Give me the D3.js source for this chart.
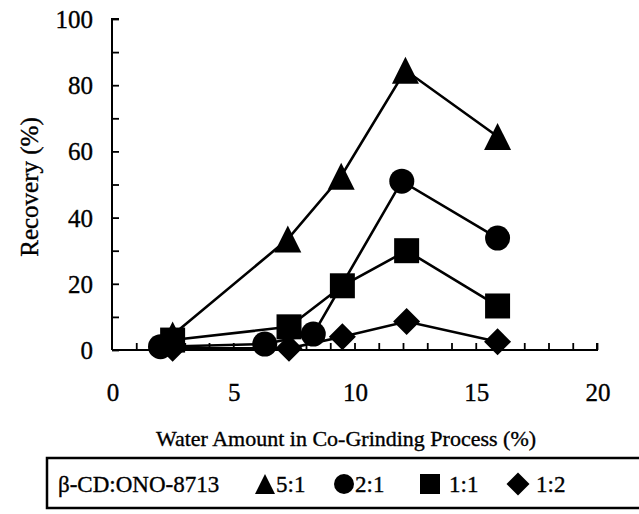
<!DOCTYPE html>
<html>
<head>
<meta charset="utf-8">
<script src="https://cdn.jsdelivr.net/npm/d3@7"></script>
</head>
<body style="margin:0">
<svg id="chart" width="639" height="514"></svg>
<script>
// ---- data ----
const seriesNames = ["5:1", "2:1", "1:1", "1:2"];
const seriesShapes = ["triangle", "circle", "square", "diamond"];
const xTri = [2.5, 7.25, 9.45, 12.1, 15.9];
const yTri = [4.5, 33.5, 52.5, 84.5, 64.5];
const xCir = [2.0, 6.3, 8.3, 11.95, 15.9];
const yCir = [1, 1.8, 4.8, 51, 33.8];
const xSq = [2.5, 7.3, 9.5, 12.15, 15.9];
const ySq = [3, 7, 19.4, 30, 13.3];
const xDia = [2.5, 7.3, 9.5, 12.15, 15.9];
const yDia = [0.5, 0.5, 4, 8.6, 2.5];
const xTicks = [0, 5, 10, 15, 20];
const yTicks = [0, 20, 40, 60, 80, 100];
const legendTitle = "β-CD:ONO-8713";
const xTitle = "Water Amount in Co-Grinding Process (%)";
const yTitle = "Recovery (%)";

const seriesX = [xTri, xCir, xSq, xDia];
const seriesY = [yTri, yCir, ySq, yDia];

// ---- layout ----
const svg = d3.select("#chart");
const x0 = 112, x1 = 597, yTop = 19, yBot = 350;
const x = d3.scaleLinear().domain([0, 20]).range([x0, x1]);
const y = d3.scaleLinear().domain([0, 100]).range([yBot, yTop]);

function shapePath(shape, s) {
  const h = s / 2;
  if (shape === "triangle") return `M0,${-h}L${h},${h}L${-h},${h}Z`;
  if (shape === "square") return `M${-h},${-h}H${h}V${h}H${-h}Z`;
  if (shape === "diamond") return `M0,${-h}L${h},0L0,${h}L${-h},0Z`;
  return d3.arc()({innerRadius: 0, outerRadius: h, startAngle: 0, endAngle: 2 * Math.PI});
}
const markerSize = {triangle: 27, circle: 25, square: 25, diamond: 27};

function txt(sel, size) {
  return sel.style("font-family", d => `"Liberation Serif"`).style("font-size", size + "px")
    .style("fill", "#000").style("stroke", "#000").style("stroke-width", "0.35px");
}

// axes
const yAxis = d3.axisRight(y).tickValues(d3.range(0, 101, 10)).tickSize(7).tickFormat("");
const gy = svg.append("g").attr("transform", `translate(${x0},0)`).call(yAxis);
gy.select(".domain").attr("d", `M7,${yTop}H0V${yBot}`);
const xAxis = d3.axisTop(x).tickValues(d3.range(1, 21, 1)).tickSize(7).tickFormat("");
const gx = svg.append("g").attr("transform", `translate(0,${yBot})`).call(xAxis);
gx.select(".domain").attr("d", `M${x0},0H${x1}V-7`);
svg.selectAll(".domain").attr("stroke", "#000").attr("stroke-width", 2).attr("fill", "none");
svg.selectAll(".tick line").attr("stroke", "#000").attr("stroke-width", 1.8);

// tick labels
txt(svg.append("g").selectAll("text").data(yTicks).join("text")
  .attr("x", 93).attr("y", d => y(d) + 9)
  .attr("text-anchor", "end").text(d => d), 25);
txt(svg.append("g").selectAll("text").data(xTicks).join("text")
  .attr("x", d => x(d) + 1).attr("y", 401)
  .attr("text-anchor", "middle").text(d => d), 25);

// titles
txt(svg.append("text").attr("x", 346).attr("y", 446).attr("text-anchor", "middle")
  .text(xTitle), 22);
txt(svg.append("text").attr("transform", "translate(38,187) rotate(-90)")
  .attr("text-anchor", "middle").text(yTitle), 25);

// lines + markers
const line = d3.line().x(d => x(d[0])).y(d => y(d[1]));
seriesNames.forEach((name, i) => {
  const pts = seriesX[i].map((v, j) => [v, seriesY[i][j]]);
  svg.append("path").attr("d", line(pts)).attr("fill", "none")
    .attr("stroke", "#000").attr("stroke-width", 2.6);
});
seriesNames.forEach((name, i) => {
  const pts = seriesX[i].map((v, j) => [v, seriesY[i][j]]);
  const shp = seriesShapes[i];
  svg.append("g").selectAll("path").data(pts).join("path")
    .attr("transform", d => `translate(${x(d[0])},${y(d[1])})`)
    .attr("d", shapePath(shp, markerSize[shp])).attr("fill", "#000");
});

// legend
const lg = svg.append("g");
lg.append("rect").attr("x", 47).attr("y", 458).attr("width", 620).attr("height", 50)
  .attr("fill", "none").attr("stroke", "#000").attr("stroke-width", 2.5);
txt(lg.append("text").attr("x", 58).attr("y", 492).text(legendTitle), 23);
const legMarkX = [265, 344, 430, 518];
const legMarkS = [20, 20, 20, 23];
const legTextX = [276, 355, 449, 536];
seriesNames.forEach((name, i) => {
  const shp = seriesShapes[i];
  lg.append("path").attr("transform", `translate(${legMarkX[i]},484)`)
    .attr("d", shapePath(shp, legMarkS[i])).attr("fill", "#000");
  txt(lg.append("text").attr("x", legTextX[i]).attr("y", 492).text(name), 23);
});
</script>
</body>
</html>
